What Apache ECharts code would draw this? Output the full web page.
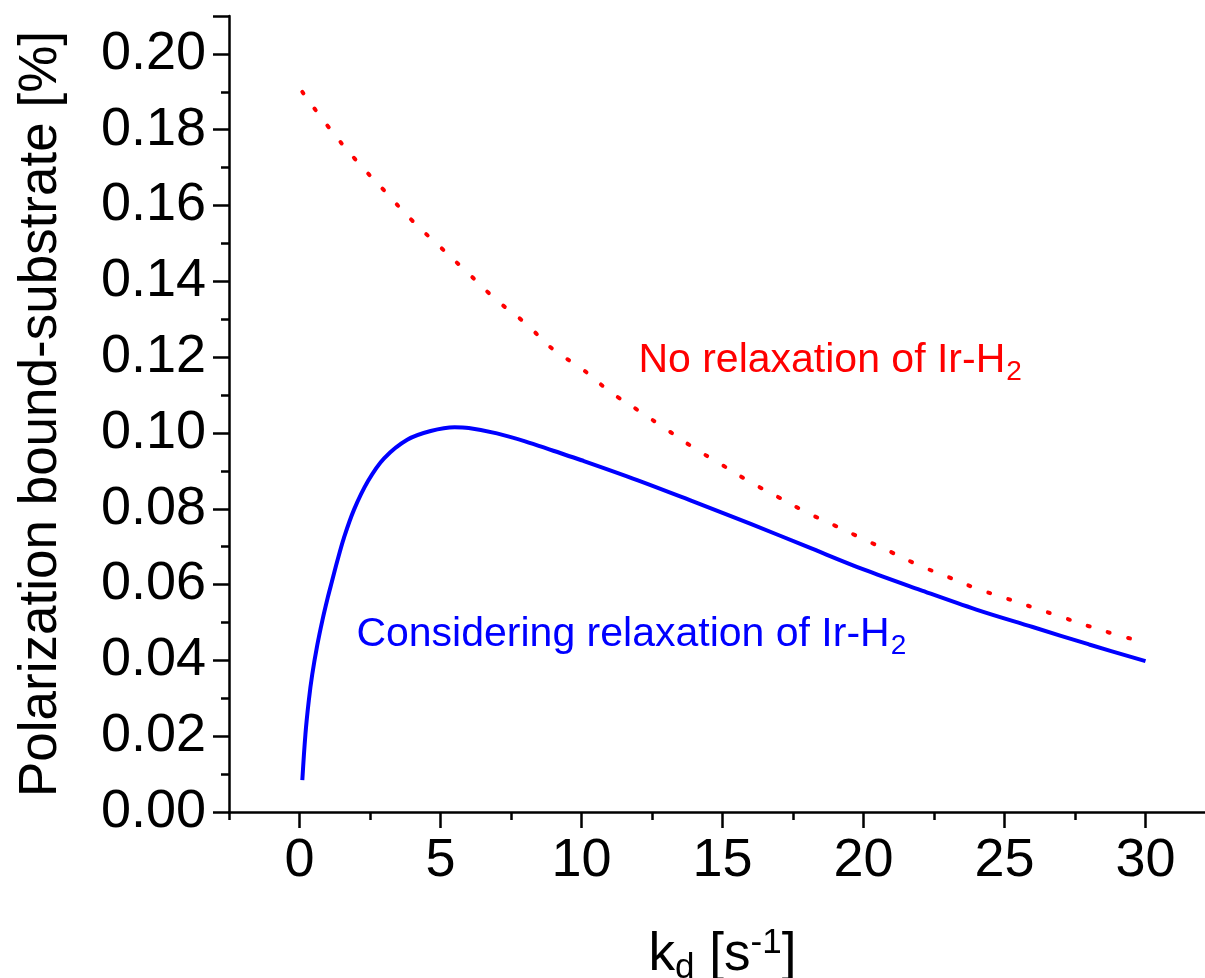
<!DOCTYPE html>
<html><head><meta charset="utf-8">
<script src="https://cdn.jsdelivr.net/npm/echarts@6/dist/echarts.min.js"></script>
<style>html,body{margin:0;padding:0;background:#fff}#c{width:1205px;height:978px}</style>
</head><body><div id="c"></div>
<script>
// Blue: considering relaxation of Ir-H2
const blueX = [0.1,0.21,0.33,0.45,0.63,0.81,1.0,1.15,1.34,1.57,1.93,2.43,3.0,3.82,4.65,5.5,6,7,8,9,10,12,14,16,18,20,22,24,26,28,30];
const blueY = [0.0084,0.0205,0.0294,0.0362,0.0440,0.0505,0.0565,0.0608,0.0662,0.0722,0.0797,0.0873,0.0933,0.0982,0.1005,0.1015,0.1013,0.0999,0.0978,0.0953,0.0928,0.0875,0.0818,0.076,0.07,0.064,0.0586,0.0534,0.0488,0.0442,0.0398];
// Red: no relaxation of Ir-H2
const redX = [0.1,1,2,3,4,5,6,7,8,9,10,11,12,13,14,15,16,17,18,19,20,21,22,23,24,25,26,27,28,29,29.5];
const redY = [0.19,0.181,0.172,0.164,0.156,0.149,0.142,0.135,0.129,0.122,0.117,0.111,0.106,0.101,0.096,0.0915,0.087,0.083,0.079,0.0755,0.072,0.0685,0.065,0.062,0.059,0.0565,0.054,0.0515,0.049,0.0467,0.0457];
// Axis ticks
const xMajor = [0,5,10,15,20,25,30];
const xMinor = [-2.5,2.5,7.5,12.5,17.5,22.5,27.5];
const labelRed = {x: 12.0, y: 0.119, text: 'No relaxation of Ir-H'};
const labelBlue = {x: 2.0, y: 0.0467, text: 'Considering relaxation of Ir-H'};

const FONT = '"Liberation Sans", Arial, sans-serif';
const chart = echarts.init(document.getElementById('c'), null, {renderer: 'canvas'});
const zip = (xs, ys) => xs.map((x, i) => [x, ys[i]]);
function ann(l, color) {
  return {
    type: 'scatter', silent: true, symbol: 'circle', symbolSize: 1,
    itemStyle: {color: 'rgba(0,0,0,0)', opacity: 1},
    data: [[l.x, l.y]],
    label: {
      show: true, position: 'right', distance: 0,
      formatter: '{m|' + l.text + '}{s|2}',
      rich: {
        m: {fontFamily: FONT, fontSize: 41, color: color},
        s: {fontFamily: FONT, fontSize: 28, color: color, padding: [22, 0, 0, 1]}
      }
    }
  };
}
const lineBlack = {color: '#000', width: 2.5};
chart.setOption({
  animation: false,
  grid: {left: 229, top: 16, bottom: 166, right: -11, outerBoundsMode: 'none', containLabel: false},
  xAxis: [{
    type: 'value', min: -2.5, max: 32.5,
    axisLine: {show: true, onZero: false, lineStyle: lineBlack},
    axisTick: {show: true, length: 16, lineStyle: lineBlack, customValues: xMajor},
    axisLabel: {color: '#000', fontFamily: FONT, fontSize: 54, margin: 22, customValues: xMajor},
    splitLine: {show: false},
    name: '{n|k}{sub|d}{n| [s}{sup|-1}{n|]}',
    nameLocation: 'middle', nameGap: 113,
    nameTextStyle: {
      rich: {
        n: {fontFamily: FONT, fontSize: 53, color: '#000'},
        sub: {fontFamily: FONT, fontSize: 35, color: '#000', padding: [26, 0, 0, 0]},
        sup: {fontFamily: FONT, fontSize: 35, color: '#000', padding: [0, 0, 24, 0]}
      }
    }
  }, {
    type: 'value', min: -2.5, max: 32.5, position: 'bottom',
    axisLine: {show: false},
    axisTick: {show: true, length: 8, lineStyle: lineBlack, customValues: xMinor},
    axisLabel: {show: false},
    splitLine: {show: false}
  }],
  yAxis: {
    type: 'value', min: 0, max: 0.21, interval: 0.02,
    axisLine: {show: true, onZero: false, lineStyle: lineBlack},
    axisTick: {show: true, length: 16, lineStyle: lineBlack},
    minorTick: {show: true, splitNumber: 2, length: 8, lineStyle: lineBlack},
    splitLine: {show: false},
    axisLabel: {color: '#000', fontFamily: FONT, fontSize: 54, margin: 23,
      formatter: v => (v > 0.205) ? '' : v.toFixed(2)},
    name: 'Polarization bound-substrate [%]',
    nameLocation: 'middle', nameGap: 161,
    nameTextStyle: {fontFamily: FONT, fontSize: 53, color: '#000'}
  },
  series: [
    {
      type: 'line', data: zip(redX, redY), smooth: true, symbol: 'none',
      lineStyle: {color: '#ff0000', width: 4, type: [2, 19], cap: 'round'}
    },
    {
      type: 'line', data: zip(blueX, blueY), smooth: 0.35, symbol: 'none',
      lineStyle: {color: '#0000ff', width: 4}
    },
    ann(labelRed, '#ff0000'),
    ann(labelBlue, '#0000ff')
  ]
});
</script></body></html>
